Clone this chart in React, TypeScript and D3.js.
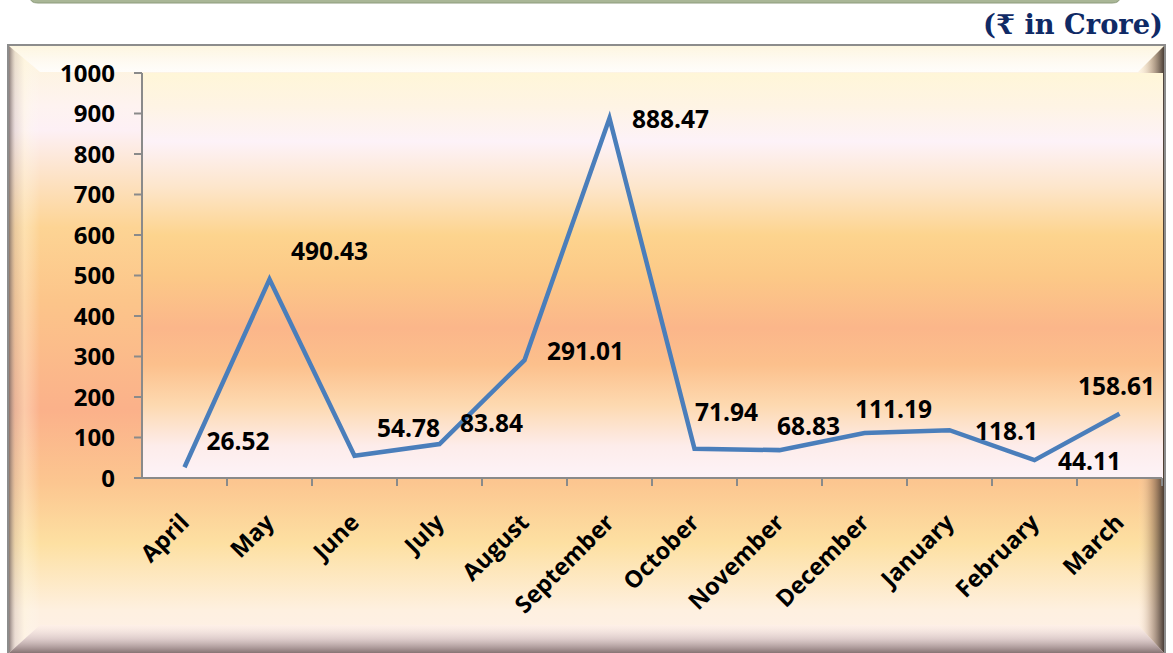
import React from "react";
import * as d3 from "d3";

const months = ["April", "May", "June", "July", "August", "September", "October", "November", "December", "January", "February", "March"];
const values = [26.52, 490.43, 54.78, 83.84, 291.01, 888.47, 71.94, 68.83, 111.19, 118.1, 44.11, 158.61];
const yTicks = [0, 100, 200, 300, 400, 500, 600, 700, 800, 900, 1000];
const unitLabel = "(₹ in Crore)";

// label placement offsets (px) relative to each point: [dx, dy of baseline]
const LABEL_OFFSETS: [number, number][] = [
  [22, -17], [21.5, -19], [22.5, -19], [20.5, -12], [22.5, 0], [22.5, 10],
  [0.5, -28], [-2.5, -15], [-9.5, -15], [25.5, 10], [23.5, 10], [-41.5, -19],
];

const W = 1173, H = 653;
const PL = 142, PR = 1162, PT = 73, PB = 478;
const FONT = "'Open Sans', 'Noto Sans', sans-serif";

export default function App() {
  const x = d3.scaleBand<string>().domain(months).range([PL, PR]);
  const y = d3.scaleLinear().domain([0, 1000]).range([PB, PT]);
  const cx = (m: string) => (x(m) as number) + x.bandwidth() / 2;
  const line = d3.line<number>().x((_, i) => cx(months[i])).y((v) => y(v));
  const axisColor = "#8a8a8a";

  return (
    <svg width={W} height={H} style={{ position: "absolute", left: 0, top: 0 }}>
      <defs>
        <linearGradient id="chartBg" gradientUnits="userSpaceOnUse" x1="0" y1="45" x2="0" y2="653">
          <stop offset="0" stopColor="#fdf4d8" />
          <stop offset="0.1" stopColor="#fef3f0" />
          <stop offset="0.14" stopColor="#fdf0f5" />
          <stop offset="0.22" stopColor="#fde2c4" />
          <stop offset="0.3" stopColor="#fdd494" />
          <stop offset="0.42" stopColor="#fcc58a" />
          <stop offset="0.6" stopColor="#fbb18a" />
          <stop offset="0.72" stopColor="#fcc690" />
          <stop offset="0.82" stopColor="#fde0a2" />
          <stop offset="0.93" stopColor="#fef0e0" />
          <stop offset="1" stopColor="#fdf0ea" />
        </linearGradient>
        <linearGradient id="plotBg" gradientUnits="userSpaceOnUse" x1="0" y1={PT} x2="0" y2={PB}>
          <stop offset="0" stopColor="#fff6d8" />
          <stop offset="0.08" stopColor="#fef4e4" />
          <stop offset="0.17" stopColor="#fdf2f8" />
          <stop offset="0.28" stopColor="#fde6cc" />
          <stop offset="0.4" stopColor="#fdd48e" />
          <stop offset="0.5" stopColor="#fcc987" />
          <stop offset="0.63" stopColor="#fbb68a" />
          <stop offset="0.72" stopColor="#fcc08c" />
          <stop offset="0.82" stopColor="#fdd9b0" />
          <stop offset="0.92" stopColor="#fdecea" />
          <stop offset="1" stopColor="#fdf3f8" />
        </linearGradient>
        <linearGradient id="bevTop" x1="0" y1="0" x2="0" y2="1">
          <stop offset="0" stopColor="#ffffff" stopOpacity="0.2" />
          <stop offset="1" stopColor="#ffffff" stopOpacity="0.85" />
        </linearGradient>
        <linearGradient id="bevLeft" gradientUnits="userSpaceOnUse" x1="9" y1="0" x2="40" y2="0">
          <stop offset="0" stopColor="#6e6060" stopOpacity="0.8" />
          <stop offset="0.2" stopColor="#c8b8b0" stopOpacity="0.35" />
          <stop offset="0.5" stopColor="#fff8e0" stopOpacity="0.35" />
          <stop offset="1" stopColor="#ffffff" stopOpacity="0" />
        </linearGradient>
        <linearGradient id="bevRight" gradientUnits="userSpaceOnUse" x1="1138" y1="0" x2="1164" y2="0">
          <stop offset="0" stopColor="#ffe6c8" stopOpacity="0" />
          <stop offset="0.5" stopColor="#9a7a60" stopOpacity="0.45" />
          <stop offset="1" stopColor="#3a2e28" stopOpacity="0.92" />
        </linearGradient>
        <linearGradient id="bevBottom" gradientUnits="userSpaceOnUse" x1="0" y1="625" x2="0" y2="653">
          <stop offset="0" stopColor="#fff0f0" stopOpacity="0.3" />
          <stop offset="0.5" stopColor="#c8b4b8" stopOpacity="0.6" />
          <stop offset="1" stopColor="#7a6666" stopOpacity="0.9" />
        </linearGradient>
      </defs>

      {/* top banner */}
      <path d="M30,-10 L1120,-10 L1120,-3 Q1120,3 1112,3 L38,3 Q30,3 30,-3 Z" fill="#a9b696" stroke="#8d9c7c" strokeWidth={1} />

      {/* unit label */}
      <text x={1163} y={34} textAnchor="end" fontFamily="'DejaVu Serif', 'Liberation Serif', serif" fontWeight="bold" fontSize={27} fill="#0f2a66" textLength={180} lengthAdjust="spacingAndGlyphs">{unitLabel}</text>

      {/* chart frame */}
      <rect x={9} y={46} width={1155} height={610} fill="url(#chartBg)" />
      <polygon points="9,46 1164,46 1138,72 40,72" fill="url(#bevTop)" />
      <polygon points="9,46 40,72 40,625 9,653" fill="url(#bevLeft)" />
      <polygon points="1164,46 1164,653 1138,625 1138,72" fill="url(#bevRight)" />
      <polygon points="9,653 40,625 1138,625 1164,653" fill="url(#bevBottom)" />
      <rect x={8} y={45} width={1157} height={620} fill="none" stroke="#8c8c8c" strokeWidth={2} />

      {/* plot area */}
      <rect x={PL} y={PT} width={1163 - PL} height={PB - PT} fill="url(#plotBg)" />

      {/* y axis */}
      <line x1={PL} x2={PL} y1={PT} y2={PB} stroke={axisColor} strokeWidth={2} />
      {yTicks.map((t) => (
        <g key={t}>
          <line x1={PL - 8} x2={PL} y1={y(t)} y2={y(t)} stroke={axisColor} strokeWidth={2} />
          <text x={115} y={y(t)} dy="0.36em" textAnchor="end" fontFamily={FONT} fontWeight="bold" fontSize={24} fill="#000">{t}</text>
        </g>
      ))}

      {/* x axis */}
      <line x1={PL - 8} x2={PR} y1={PB} y2={PB} stroke={axisColor} strokeWidth={2} />
      {months.map((m) => (
        <line key={m} x1={(x(m) as number) + x.bandwidth()} x2={(x(m) as number) + x.bandwidth()} y1={PB} y2={PB + 8} stroke={axisColor} strokeWidth={2} />
      ))}
      {months.map((m) => (
        <text key={m} transform={`translate(${cx(m) + 6},${524}) rotate(-45)`} textAnchor="end" fontFamily={FONT} fontWeight="bold" fontSize={23.5} fill="#000">{m}</text>
      ))}

      {/* series */}
      <path d={line(values) as string} fill="none" stroke="#4a7ebb" strokeWidth={4.5} strokeLinejoin="miter" />

      {values.map((v, i) => (
        <text key={i} x={cx(months[i]) + LABEL_OFFSETS[i][0]} y={y(v) + LABEL_OFFSETS[i][1]} fontFamily={FONT} fontWeight="bold" fontSize={24.5} fill="#000">{v}</text>
      ))}
    </svg>
  );
}
